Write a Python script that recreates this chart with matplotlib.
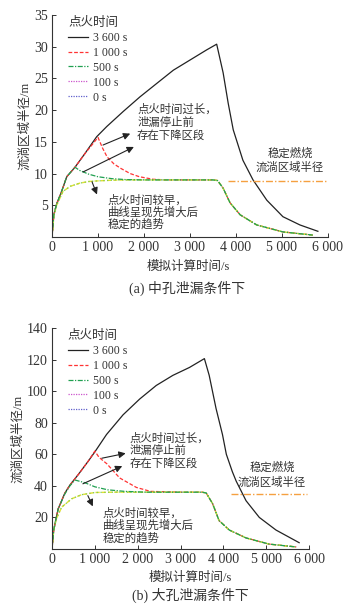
import matplotlib
matplotlib.use('Agg')
import matplotlib.pyplot as plt
from matplotlib.lines import Line2D

plt.rcParams['font.family'] = ['Liberation Serif', 'Noto Sans CJK SC']
plt.rcParams['axes.unicode_minus'] = False

# ---- (a) 中孔泄漏 ----
a_t_3600 = [0, 40, 100, 200, 320, 500, 700, 970, 1188, 1550, 1913, 2275, 2638, 3000, 3362, 3580,
            3720, 3830, 3940, 4150, 4370, 4670, 5020, 5390, 5780]
a_r_3600 = [0, 3.5, 5.2, 7.0, 9.5, 11.0, 13.0, 15.8, 17.4, 19.8, 22.1, 24.2, 26.3, 27.9, 29.5, 30.4,
            25.9, 21.1, 16.9, 12.1, 9.0, 5.8, 3.2, 1.9, 0.9]
a_t_1000 = [0, 40, 100, 200, 320, 500, 700, 1000, 1100, 1200, 1350, 1500, 1700, 1900, 2200, 2500,
            3000, 3500, 3600, 3720, 3870, 4090, 4450, 5020, 5670]
a_r_1000 = [0, 3.5, 5.2, 7.0, 9.5, 11.0, 13.0, 15.7, 14.0, 12.6, 11.5, 10.8, 10.0, 9.5, 9.1, 9.0,
            9.0, 9.0, 8.9, 7.7, 5.4, 3.5, 1.9, 0.8, 0.3]
a_t_500 = [0, 40, 100, 200, 320, 500, 600, 800, 1000, 1300, 1600, 2000, 3000, 3500, 3600, 3720,
           3870, 4090, 4450, 5020, 5670]
a_r_500 = [0, 3.5, 5.2, 7.0, 9.5, 11.0, 10.5, 9.9, 9.5, 9.2, 9.05, 9.0, 9.0, 9.0, 8.9, 7.7,
           5.4, 3.5, 1.9, 0.8, 0.3]
a_t_100 = [0, 40, 100, 240, 400, 610, 800, 1000, 1300, 1600, 2000, 3000, 3500, 3600, 3720, 3870,
           4090, 4450, 5020, 5670]
a_r_100 = [0, 3.3, 5.0, 7.2, 8.0, 8.5, 8.75, 8.85, 8.95, 9.0, 9.0, 9.0, 9.0, 8.9, 7.7, 5.4,
           3.5, 1.9, 0.8, 0.3]
a_t_0 = a_t_100
a_r_0 = a_r_100
a_t_stable = [3830, 5980]
a_r_stable = [8.8, 8.8]

# ---- (b) 大孔泄漏 ----
b_t_3600 = [0, 40, 100, 147, 302, 418, 620, 845, 1000, 1272, 1659, 2047, 2434, 2822, 3209, 3558,
            3670, 3830, 3980, 4070, 4210, 4300, 4530, 4840, 5230, 5770]
b_r_3600 = [0, 12, 20, 25.6, 35.5, 40.5, 47.4, 55.6, 61.5, 72.5, 85, 95, 103.6, 110, 115, 120.6,
            110, 89, 72.5, 60, 49, 43, 30.6, 20, 12, 4]
b_t_1000 = [0, 40, 100, 147, 302, 418, 620, 845, 1000, 1100, 1280, 1580, 1970, 2300, 3000, 3500,
            3600, 3750, 3900, 4140, 4530, 5070, 5700]
b_r_1000 = [0, 12, 20, 25.6, 35.5, 40.5, 47.4, 55.6, 62, 58, 54, 45, 39, 36.5, 36, 36,
            35.5, 28.7, 18, 12, 7, 3.1, 1.3]
b_t_500 = [0, 40, 100, 147, 302, 418, 535, 767, 1000, 1300, 1700, 2200, 3000, 3500, 3600, 3750,
           3900, 4140, 4530, 5070, 5700]
b_r_500 = [0, 12, 20, 25.6, 35, 40, 43.7, 42, 39.4, 37.5, 36.5, 36, 36, 36, 35.5, 28.7,
           18, 12, 7, 3.1, 1.3]
b_t_100 = [0, 40, 100, 225, 458, 690, 1000, 1500, 2000, 3000, 3500, 3600, 3750, 3900, 4140, 4530,
           5070, 5700]
b_r_100 = [0, 12, 19, 26.5, 31.8, 34.4, 35.8, 36, 36, 36, 36, 35.5, 28.7, 18, 12, 7,
           3.1, 1.3]
b_t_0 = b_t_100
b_r_0 = b_r_100
b_t_stable = [4190, 5950]
b_r_stable = [35, 35]

labels = ['3 600 s', '1 000 s', '500 s', '100 s', '0 s']
xticks = [0, 1000, 2000, 3000, 4000, 5000, 6000]
xticklabels = ['0', '1 000', '2 000', '3 000', '4 000', '5 000', '6 000']

fig = plt.figure(figsize=(3.51, 6.07), dpi=100)
ax1 = fig.add_axes([52 / 351, 1 - 237 / 607, 276 / 351, 222 / 607])
ax2 = fig.add_axes([52 / 351, 1 - 549 / 607, 257 / 351, 221 / 607])


def draw(ax, curves, stable, ymax, ystep):
    (t36, r36), (t10, r10), (t5, r5), (t1, r1), (t0, r0) = curves
    ax.plot(t36, r36, c='#222222', lw=0.9)
    ax.plot(t10, r10, c='#ff3333', lw=0.9, ls=(0, (3, 1.5)))
    ax.plot(t0, r0, c='#e4e030', lw=1.0, ls=(0, (3, 1.5)))
    ax.plot(t1, r1, c='#7fcf50', lw=0.9, ls=(0, (1, 2)))
    ax.plot(t5, r5, c='#20a050', lw=0.9, ls=(0, (4, 1.2, 1, 1.2)))
    ax.plot(stable[0], stable[1], c='#f5a040', lw=1.0, ls=(0, (5, 1.5, 1, 1.5)))
    ax.set_xlim(0, 6000)
    ax.set_ylim(0, ymax)
    ax.set_xticks(xticks)
    ax.set_xticklabels(xticklabels, fontsize=9)
    ax.set_yticks(list(range(ystep, ymax + 1, ystep)))
    ax.tick_params(direction='in', length=3, width=0.7, labelsize=10, pad=3, colors='#333333')
    for s in ['top', 'right']:
        ax.spines[s].set_visible(False)
    for s in ['left', 'bottom']:
        ax.spines[s].set_linewidth(0.8)
        ax.spines[s].set_color('#333333')
    handles = [
        Line2D([], [], c='#222222', lw=0.9),
        Line2D([], [], c='#ff3333', lw=0.9, ls=(0, (3, 1.5))),
        Line2D([], [], c='#20a050', lw=0.9, ls=(0, (4, 1.2, 1, 1.2))),
        Line2D([], [], c='#cc55cc', lw=0.9, ls=(0, (1, 1))),
        Line2D([], [], c='#6060cc', lw=0.9, ls=(0, (1, 1))),
    ]
    leg = ax.legend(handles, labels, title='点火时间', loc='upper left', bbox_to_anchor=(0.02, 1.04),
                    frameon=False, fontsize=8.5, title_fontsize=9, handlelength=1.7, handletextpad=0.4,
                    labelspacing=0.25, alignment='left')
    for txt in leg.get_texts():
        txt.set_color('#333333')
    leg.get_title().set_color('#333333')
    ax.set_ylabel('流淌区域半径/m', fontsize=9, labelpad=2, color='#333333')


draw(ax1, [(a_t_3600, a_r_3600), (a_t_1000, a_r_1000), (a_t_500, a_r_500),
           (a_t_100, a_r_100), (a_t_0, a_r_0)], (a_t_stable, a_r_stable), 35, 5)
draw(ax2, [(b_t_3600, b_r_3600), (b_t_1000, b_r_1000), (b_t_500, b_r_500),
           (b_t_100, b_r_100), (b_t_0, b_r_0)], (b_t_stable, b_r_stable), 140, 20)

arrow = dict(arrowstyle='-|>', color='#222222', lw=0.8, mutation_scale=10, shrinkA=0, shrinkB=0)
tfont = dict(fontsize=8.2, color='#333333')

# (a) annotations
ax1.annotate('', xy=(1700, 16.3), xytext=(1109, 14.5), arrowprops=arrow)
ax1.annotate('', xy=(1780, 14.2), xytext=(674, 10.25), arrowprops=arrow)
ax1.annotate('', xy=(978, 6.7), xytext=(870, 8.7), arrowprops=arrow)
ax1.text(1850, 18.1, '点火时间过长，\n泄漏停止前\n存在下降区段', va='center', ha='left', linespacing=1.25, **tfont)
ax1.text(1217, 3.9, '点火时间较早，\n曲线呈现先增大后\n稳定的趋势', va='center', ha='left', linespacing=1.05, **tfont)
ax1.text(5174, 12.1, '稳定燃烧\n流淌区域半径', va='center', ha='center', linespacing=1.3, **tfont)

# (b) annotations
ax2.annotate('', xy=(1720, 60.6), xytext=(1163, 57.5), arrowprops=arrow)
ax2.annotate('', xy=(1640, 52.5), xytext=(721, 41.3), arrowprops=arrow)
ax2.annotate('', xy=(953, 27.0), xytext=(837, 33.8), arrowprops=arrow)
ax2.text(1814, 62.5, '点火时间过长，\n泄漏停止前\n存在下降区段', va='center', ha='left', linespacing=1.2, **tfont)
ax2.text(1186, 15, '点火时间较早，\n曲线呈现先增大后\n稳定的趋势', va='center', ha='left', linespacing=1.1, **tfont)
ax2.text(5140, 47.2, '稳定燃烧\n流淌区域半径', va='center', ha='center', linespacing=1.4, **tfont)

fig.text(188 / 351, 1 - 267 / 607, '模拟计算时间/s', ha='center', va='center', fontsize=9, color='#333333')
fig.text(187 / 351, 1 - 288 / 607, '(a) 中孔泄漏条件下', ha='center', va='center', fontsize=10, color='#333333')
fig.text(190 / 351, 1 - 578 / 607, '模拟计算时间/s', ha='center', va='center', fontsize=9, color='#333333')
fig.text(190 / 351, 1 - 595 / 607, '(b) 大孔泄漏条件下', ha='center', va='center', fontsize=10, color='#333333')

fig.savefig('out.png', dpi=100)
